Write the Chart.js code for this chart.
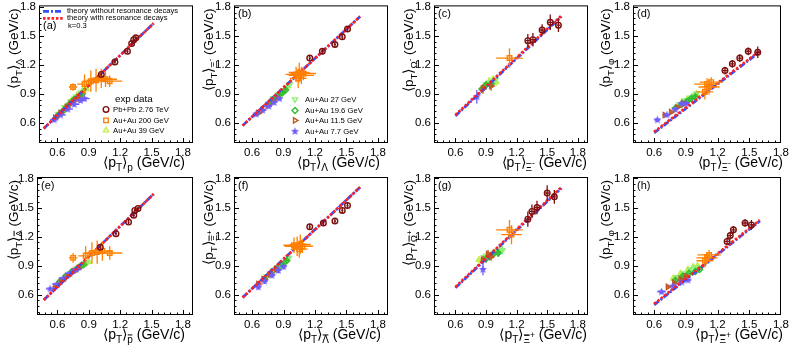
<!DOCTYPE html>
<html>
<head>
<meta charset="utf-8">
<script src="https://cdn.jsdelivr.net/npm/chart.js@4.4.0/dist/chart.umd.min.js"></script>
<style>
  body { margin: 0; background: #fff; }
  #wrap { position: relative; width: 789px; height: 347px; overflow: hidden; background: #fff; }
  #wrap canvas { position: absolute; }
</style>
</head>
<body>
<div id="wrap"></div>
<script>
// ---------------- data ----------------
const X_TICKS = [0.6, 0.9, 1.2, 1.5, 1.8];
const Y_TICKS = [0.6, 0.9, 1.2, 1.5, 1.8];

// theory curves, [x, y]
const aNoRes = [[0.47, 0.54], [1.52, 1.63]];
const aRes   = [[0.47, 0.54], [1.52, 1.63]];
const bNoRes = [[0.51, 0.57], [1.63, 1.70]];
const bRes   = [[0.51, 0.57], [1.63, 1.70]];
const cNoRes = [[0.60, 0.67], [1.64, 1.70]];
const cRes   = [[0.60, 0.68], [1.64, 1.71]];
const dNoRes = [[0.60, 0.495], [1.60, 1.335]];
const dRes   = [[0.60, 0.505], [1.60, 1.345]];
const eNoRes = [[0.47, 0.545], [1.52, 1.64]];
const eRes   = [[0.47, 0.545], [1.52, 1.64]];
const fNoRes = [[0.51, 0.57], [1.63, 1.71]];
const fRes   = [[0.51, 0.57], [1.63, 1.71]];
const gNoRes = [[0.60, 0.67], [1.64, 1.70]];
const gRes   = [[0.60, 0.68], [1.64, 1.71]];
const hNoRes = [[0.60, 0.495], [1.60, 1.36]];
const hRes   = [[0.60, 0.505], [1.60, 1.37]];

// measurements, [x, y, xErr, yErr]
// (a) p vs Lambda
const aPbPb  = [[1.02,1.10,0.01,0.02],[1.15,1.23,0.01,0.02],[1.27,1.34,0.01,0.02],[1.31,1.42,0.01,0.02],[1.33,1.46,0.01,0.02],[1.35,1.48,0.01,0.02]];
const aAu200 = [[0.75,0.97,0.04,0.04],[0.86,1.00,0.07,0.10],[0.92,1.03,0.08,0.11],[0.97,1.04,0.09,0.12],[1.02,1.06,0.10,0.10],[1.06,1.05,0.11,0.08],[1.10,1.03,0.12,0.06]];
const aAu39  = [[0.62,0.70,0.02,0.03],[0.68,0.77,0.02,0.03],[0.74,0.84,0.02,0.03],[0.79,0.89,0.02,0.03],[0.84,0.93,0.02,0.03],[0.88,0.95,0.02,0.03]];
const aAu27  = [[0.61,0.69,0.02,0.03],[0.67,0.76,0.02,0.03],[0.73,0.82,0.02,0.03],[0.78,0.87,0.02,0.03],[0.83,0.91,0.02,0.03],[0.86,0.94,0.02,0.03]];
const aAu19  = [[0.60,0.67,0.02,0.02],[0.66,0.73,0.02,0.02],[0.71,0.79,0.02,0.02],[0.76,0.84,0.02,0.02],[0.81,0.88,0.02,0.02],[0.84,0.90,0.02,0.02]];
const aAu11  = [[0.58,0.65,0.03,0.02],[0.63,0.70,0.03,0.02],[0.69,0.76,0.03,0.02],[0.73,0.80,0.03,0.02],[0.77,0.83,0.03,0.02],[0.80,0.86,0.03,0.02]];
const aAu7   = [[0.57,0.63,0.04,0.02],[0.63,0.68,0.05,0.02],[0.70,0.74,0.05,0.02],[0.76,0.79,0.05,0.02],[0.82,0.83,0.05,0.02],[0.86,0.85,0.05,0.02]];
// (b) Lambda vs Xi-
const bPbPb  = [[1.15,1.27,0.01,0.03],[1.27,1.34,0.01,0.03],[1.39,1.41,0.01,0.03],[1.46,1.49,0.01,0.03],[1.51,1.57,0.01,0.03]];
const bAu200 = [[1.02,1.10,0.10,0.08],[1.05,1.12,0.10,0.10],[1.07,1.09,0.12,0.09],[1.09,1.11,0.12,0.07],[1.04,1.06,0.08,0.10]];
const bAu39  = [[0.78,0.83,0.02,0.03],[0.84,0.88,0.02,0.03],[0.90,0.93,0.02,0.03],[0.94,0.98,0.02,0.03]];
const bAu27  = [[0.80,0.85,0.02,0.03],[0.85,0.89,0.02,0.03],[0.89,0.93,0.02,0.03],[0.93,0.97,0.02,0.03],[0.96,1.00,0.02,0.03]];
const bAu19  = [[0.76,0.80,0.02,0.02],[0.81,0.85,0.02,0.02],[0.85,0.88,0.02,0.02],[0.89,0.91,0.02,0.02],[0.92,0.94,0.02,0.02]];
const bAu11  = [[0.66,0.70,0.02,0.02],[0.70,0.73,0.02,0.02],[0.75,0.78,0.02,0.02],[0.80,0.82,0.02,0.02],[0.84,0.86,0.02,0.02]];
const bAu7   = [[0.64,0.69,0.03,0.02],[0.70,0.73,0.03,0.02],[0.76,0.77,0.03,0.02],[0.81,0.81,0.03,0.02],[0.86,0.85,0.03,0.02]];
// (c) Xi- vs Omega-
const cPbPb  = [[1.31,1.45,0.02,0.07],[1.36,1.46,0.02,0.07],[1.45,1.56,0.02,0.06],[1.53,1.64,0.02,0.08],[1.61,1.61,0.02,0.07]];
const cAu200 = [[1.13,1.27,0.13,0.10]];
const cAu39  = [[0.93,1.03,0.02,0.04],[0.97,1.05,0.02,0.04],[1.00,1.02,0.02,0.04]];
const cAu27  = [[0.90,1.00,0.02,0.04],[0.95,1.02,0.02,0.04],[0.99,1.04,0.02,0.04]];
const cAu19  = [[0.86,0.95,0.02,0.04],[0.90,0.99,0.02,0.04],[0.95,1.00,0.02,0.04]];
const cAu11  = [[0.87,0.95,0.02,0.05],[0.95,0.98,0.02,0.05]];
const cAu7   = [[0.81,0.87,0.02,0.07]];
// (d) Xi- vs phi
const dPbPb  = [[1.27,1.14,0.02,0.04],[1.34,1.21,0.02,0.04],[1.41,1.27,0.02,0.04],[1.49,1.34,0.02,0.04],[1.58,1.33,0.02,0.06]];
const dAu200 = [[1.10,1.00,0.12,0.06],[1.12,0.97,0.10,0.08],[1.08,0.92,0.08,0.08],[1.14,1.02,0.11,0.05]];
const dAu39  = [[0.86,0.81,0.02,0.02],[0.91,0.84,0.02,0.02],[0.96,0.87,0.02,0.02],[1.00,0.90,0.02,0.02]];
const dAu27  = [[0.84,0.79,0.02,0.02],[0.89,0.83,0.02,0.02],[0.94,0.86,0.02,0.02],[0.98,0.88,0.02,0.02],[1.00,0.90,0.02,0.02]];
const dAu19  = [[0.80,0.75,0.02,0.02],[0.86,0.79,0.02,0.02],[0.91,0.82,0.02,0.02],[0.95,0.85,0.02,0.02],[0.99,0.87,0.02,0.02]];
const dAu11  = [[0.70,0.68,0.02,0.02],[0.76,0.71,0.02,0.02],[0.82,0.76,0.02,0.02],[0.88,0.80,0.02,0.02]];
const dAu7   = [[0.63,0.63,0.03,0.02],[0.72,0.68,0.03,0.02],[0.80,0.74,0.03,0.02],[0.86,0.80,0.03,0.02],[0.90,0.80,0.03,0.02]];
// (e) pbar vs Lambdabar
const ePbPb  = [[1.01,1.09,0.01,0.02],[1.16,1.23,0.01,0.02],[1.28,1.35,0.01,0.02],[1.33,1.42,0.01,0.02],[1.34,1.47,0.01,0.02],[1.37,1.49,0.01,0.02]];
const eAu200 = [[0.75,0.98,0.04,0.05],[0.87,1.00,0.07,0.10],[0.93,1.03,0.08,0.11],[0.98,1.04,0.09,0.12],[1.03,1.05,0.10,0.10],[1.10,1.03,0.12,0.07]];
const eAu39  = [[0.66,0.77,0.02,0.03],[0.73,0.83,0.02,0.03],[0.80,0.88,0.02,0.03],[0.86,0.92,0.02,0.03],[0.90,0.94,0.02,0.03]];
const eAu27  = [[0.65,0.76,0.02,0.03],[0.72,0.82,0.02,0.03],[0.78,0.87,0.02,0.03],[0.84,0.91,0.02,0.03],[0.88,0.93,0.02,0.03]];
const eAu19  = [[0.62,0.73,0.02,0.02],[0.68,0.79,0.02,0.02],[0.74,0.84,0.02,0.02],[0.80,0.88,0.02,0.02],[0.85,0.91,0.02,0.02]];
const eAu11  = [[0.58,0.68,0.03,0.02],[0.64,0.74,0.03,0.02],[0.70,0.79,0.03,0.02],[0.76,0.84,0.03,0.02],[0.80,0.87,0.03,0.02]];
const eAu7   = [[0.53,0.66,0.04,0.02],[0.60,0.71,0.05,0.02],[0.66,0.77,0.05,0.02],[0.72,0.82,0.05,0.02],[0.78,0.86,0.05,0.02]];
// (f) Lambdabar vs Xi+
const fPbPb  = [[1.15,1.30,0.01,0.03],[1.28,1.34,0.01,0.03],[1.39,1.36,0.01,0.03],[1.46,1.47,0.01,0.03],[1.51,1.52,0.01,0.03]];
const fAu200 = [[1.00,1.11,0.10,0.08],[1.03,1.10,0.12,0.10],[1.06,1.12,0.10,0.10],[1.05,1.07,0.08,0.09],[1.08,1.10,0.10,0.07]];
const fAu39  = [[0.75,0.80,0.02,0.03],[0.82,0.86,0.02,0.03],[0.88,0.91,0.02,0.03],[0.93,0.96,0.02,0.03]];
const fAu27  = [[0.74,0.79,0.02,0.03],[0.80,0.85,0.02,0.03],[0.86,0.89,0.02,0.03],[0.91,0.93,0.02,0.03],[0.95,0.98,0.02,0.03]];
const fAu19  = [[0.72,0.76,0.02,0.02],[0.78,0.82,0.02,0.02],[0.84,0.87,0.02,0.02],[0.89,0.91,0.02,0.02],[0.93,0.95,0.02,0.02]];
const fAu11  = [[0.66,0.71,0.02,0.02],[0.71,0.76,0.02,0.02],[0.77,0.81,0.02,0.02],[0.83,0.86,0.02,0.02]];
const fAu7   = [[0.66,0.68,0.03,0.03],[0.72,0.74,0.03,0.03],[0.79,0.80,0.03,0.03],[0.85,0.85,0.03,0.03],[0.90,0.89,0.03,0.03]];
// (g) Xi+ vs Omegabar+
const gPbPb  = [[1.31,1.38,0.02,0.08],[1.35,1.46,0.02,0.07],[1.40,1.50,0.02,0.07],[1.50,1.65,0.02,0.08],[1.57,1.61,0.02,0.07]];
const gAu200 = [[1.13,1.27,0.13,0.10],[1.15,1.22,0.10,0.10]];
const gAu39  = [[0.83,0.96,0.02,0.04],[0.91,1.01,0.02,0.04],[0.99,1.04,0.02,0.04],[1.05,1.07,0.02,0.04]];
const gAu27  = [[0.88,0.99,0.02,0.04],[0.95,1.01,0.02,0.04],[1.03,1.05,0.02,0.04],[1.06,1.06,0.02,0.04]];
const gAu19  = [[0.90,0.97,0.02,0.04],[0.97,1.02,0.02,0.04],[1.02,1.03,0.02,0.04]];
const gAu11  = [[0.87,0.96,0.02,0.04],[0.95,0.99,0.02,0.04],[0.92,1.02,0.02,0.04]];
const gAu7   = [[0.87,0.86,0.02,0.06]];
// (h) Xi+ vs phi
const hPbPb  = [[1.29,1.15,0.02,0.04],[1.32,1.21,0.02,0.04],[1.35,1.27,0.02,0.04],[1.46,1.34,0.02,0.04],[1.52,1.32,0.02,0.05]];
const hAu200 = [[1.10,0.98,0.10,0.06],[1.08,0.95,0.08,0.07],[1.12,1.01,0.11,0.05]];
const hAu39  = [[0.78,0.77,0.02,0.02],[0.85,0.82,0.02,0.02],[0.92,0.86,0.02,0.02],[0.97,0.89,0.02,0.02],[1.01,0.90,0.02,0.02]];
const hAu27  = [[0.82,0.78,0.02,0.02],[0.88,0.82,0.02,0.02],[0.94,0.86,0.02,0.02],[0.99,0.88,0.02,0.02]];
const hAu19  = [[0.80,0.75,0.02,0.02],[0.87,0.79,0.02,0.02],[0.93,0.82,0.02,0.02],[0.99,0.84,0.02,0.02],[1.03,0.86,0.02,0.02]];
const hAu11  = [[0.73,0.68,0.02,0.02],[0.79,0.72,0.02,0.02],[0.85,0.76,0.02,0.02],[0.90,0.79,0.02,0.02]];
const hAu7   = [[0.67,0.63,0.04,0.02],[0.78,0.69,0.03,0.02],[0.86,0.73,0.03,0.02],[0.92,0.75,0.03,0.02]];

// ---------------- styles ----------------
const FONT = "'Liberation Sans', Arial, Helvetica, sans-serif";
Chart.defaults.font.family = FONT;

function makeStar(color, r) {
    const c = document.createElement('canvas');
    const s = Math.ceil(r * 2 + 2);
    c.width = s; c.height = s;
    const g = c.getContext('2d');
    g.fillStyle = color;
    g.beginPath();
    for (let i = 0; i < 10; i++) {
        const rad = i % 2 ? r * 0.45 : r;
        const ang = -Math.PI / 2 + i * Math.PI / 5;
        g.lineTo(s / 2 + rad * Math.cos(ang), s / 2 + rad * Math.sin(ang));
    }
    g.closePath();
    g.fill();
    return c;
}

const SERIES = {
    PbPb:  { label: 'Pb+Pb 2.76 TeV', color: '#7d0f0f', shape: 'circle',   rot: 0,   r: 2.8 },
    Au200: { label: 'Au+Au 200 GeV',  color: '#ff8000', shape: 'rect',     rot: 0,   r: 3.2 },
    Au39:  { label: 'Au+Au 39 GeV',   color: '#c2f04a', shape: 'triangle', rot: 0,   r: 3 },
    Au27:  { label: 'Au+Au 27 GeV',   color: '#8ef07a', shape: 'triangle', rot: 180, r: 3 },
    Au19:  { label: 'Au+Au 19.6 GeV', color: '#2fba2f', shape: 'rectRot',  rot: 0,   r: 3 },
    Au11:  { label: 'Au+Au 11.5 GeV', color: '#bd5a20', shape: 'triangle', rot: 90,  r: 3 },
    Au7:   { label: 'Au+Au 7.7 GeV',  color: '#6f5cff', shape: 'star',     rot: 0,   r: 4 }
};
const STAR_IMG = makeStar(SERIES.Au7.color, 4.2);

// axis-title pieces: [text, kind, overline]
function pt(sub, sup, bar) {
    const s = [['\u27E8p', 'n'], ['T', 's'], ['\u27E9', 'n'], [sub, 's', bar]];
    if (sup) s.push([sup, 'ss']);
    s.push([' (GeV/c)', 'n']);
    return s;
}

const PANELS = [
    { tag: '(a)', frame: [39, 4, 193, 143],   xr: [0.425, 1.896], xt: pt('p'),          yt: pt('\u039B'),
      xtOff: -8, ytOff: 21, sets: { noRes: aNoRes, res: aRes, PbPb: aPbPb, Au200: aAu200, Au39: aAu39, Au27: aAu27, Au19: aAu19, Au11: aAu11, Au7: aAu7 } },
    { tag: '(b)', frame: [234, 4, 388, 143],  xr: [0.428, 1.896], xt: pt('\u039B'),     yt: pt('\u039E', '-'),
      xtOff: -8, ytOff: 21, sets: { noRes: bNoRes, res: bRes, PbPb: bPbPb, Au200: bAu200, Au39: bAu39, Au27: bAu27, Au19: bAu19, Au11: bAu11, Au7: bAu7 } },
    { tag: '(c)', frame: [434, 4, 588, 143],  xr: [0.39, 1.9],    xt: pt('\u039E', '-'), yt: pt('\u03A9', '-'),
      xtOff: -1, ytOff: 21, sets: { noRes: cNoRes, res: cRes, PbPb: cPbPb, Au200: cAu200, Au39: cAu39, Au27: cAu27, Au19: cAu19, Au11: cAu11, Au7: cAu7 } },
    { tag: '(d)', frame: [633, 4, 781, 143],  xr: [0.4, 1.8],     xt: pt('\u039E', '-'), yt: pt('\u03C6'),
      xtOff: 2, ytOff: 23, sets: { noRes: dNoRes, res: dRes, PbPb: dPbPb, Au200: dAu200, Au39: dAu39, Au27: dAu27, Au19: dAu19, Au11: dAu11, Au7: dAu7 } },
    { tag: '(e)', frame: [37, 177, 193, 315], xr: [0.405, 1.896], xt: pt('p', null, true), yt: pt('\u039B', null, true),
      xtOff: -8, ytOff: 19, sets: { noRes: eNoRes, res: eRes, PbPb: ePbPb, Au200: eAu200, Au39: eAu39, Au27: eAu27, Au19: eAu19, Au11: eAu11, Au7: eAu7 } },
    { tag: '(f)', frame: [234, 177, 388, 315], xr: [0.428, 1.896], xt: pt('\u039B', null, true), yt: pt('\u039E', '+', true),
      xtOff: -7, ytOff: 21, sets: { noRes: fNoRes, res: fRes, PbPb: fPbPb, Au200: fAu200, Au39: fAu39, Au27: fAu27, Au19: fAu19, Au11: fAu11, Au7: fAu7 } },
    { tag: '(g)', frame: [434, 177, 588, 315], xr: [0.39, 1.9],    xt: pt('\u039E', '+', true), yt: pt('\u03A9', '+', true),
      xtOff: -1, ytOff: 21, sets: { noRes: gNoRes, res: gRes, PbPb: gPbPb, Au200: gAu200, Au39: gAu39, Au27: gAu27, Au19: gAu19, Au11: gAu11, Au7: gAu7 } },
    { tag: '(h)', frame: [633, 177, 781, 315], xr: [0.4, 1.8],     xt: pt('\u039E', '+', true), yt: pt('\u03C6'),
      xtOff: 2, ytOff: 23, sets: { noRes: hNoRes, res: hRes, PbPb: hPbPb, Au200: hAu200, Au39: hAu39, Au27: hAu27, Au19: hAu19, Au11: hAu11, Au7: hAu7 } }
];
const Y_RANGE = [0.39, 1.815];

// ---------------- drawing helpers ----------------
function drawRich(ctx, segs, x, y, size, align) {
    const parts = segs.map(([t, k, bar]) => {
        const fs = k === 'n' ? size : (k === 's' ? size * 0.72 : size * 0.6);
        const dy = k === 'n' ? 0 : (k === 's' ? size * 0.3 : -size * 0.05);
        ctx.font = fs + 'px ' + FONT;
        return { t, fs, dy, bar, w: ctx.measureText(t).width };
    });
    const total = parts.reduce((s, p) => s + p.w, 0);
    let cx = align === 'right' ? x - total : x;
    ctx.textAlign = 'left';
    ctx.textBaseline = 'alphabetic';
    for (const p of parts) {
        ctx.font = p.fs + 'px ' + FONT;
        ctx.fillText(p.t, cx, y + p.dy);
        if (p.bar) {
            const yy = y + p.dy - p.fs * 0.82;
            ctx.lineWidth = 1;
            ctx.beginPath();
            ctx.moveTo(cx + 0.5, yy);
            ctx.lineTo(cx + p.w - 0.5, yy);
            ctx.stroke();
        }
        cx += p.w;
    }
}

function drawMark(ctx, key, x, y) {
    const s = SERIES[key];
    ctx.save();
    ctx.strokeStyle = s.color;
    ctx.fillStyle = 'rgba(255,255,255,0)';
    ctx.lineWidth = 1.4;
    const opts = { pointStyle: s.shape === 'star' ? STAR_IMG : s.shape, radius: s.r, rotation: s.rot, borderWidth: 1.4 };
    Chart.helpers.drawPoint(ctx, opts, x, y);
    ctx.restore();
}

const errorBars = {
    id: 'errorBars',
    beforeDatasetDraw(chart, args) {
        const ds = chart.data.datasets[args.index];
        if (!ds.err) return;
        const { ctx, chartArea: ca } = chart;
        const xs = chart.scales.x, ys = chart.scales.y;
        ctx.save();
        ctx.beginPath();
        ctx.rect(ca.left, ca.top, ca.right - ca.left, ca.bottom - ca.top);
        ctx.clip();
        ctx.strokeStyle = ds.errColor;
        ctx.lineWidth = 1.3;
        ds.data.forEach((p, i) => {
            const [ex, ey] = ds.err[i];
            const px = xs.getPixelForValue(p.x), py = ys.getPixelForValue(p.y);
            ctx.beginPath();
            ctx.moveTo(xs.getPixelForValue(p.x - ex), py);
            ctx.lineTo(xs.getPixelForValue(p.x + ex), py);
            ctx.moveTo(px, ys.getPixelForValue(p.y - ey));
            ctx.lineTo(px, ys.getPixelForValue(p.y + ey));
            ctx.stroke();
        });
        ctx.restore();
    }
};

const rootFrame = {
    id: 'rootFrame',
    afterDraw(chart) {
        const { ctx, chartArea: ca } = chart;
        const P = chart.options.plugins.rootFrame;
        const xs = chart.scales.x, ys = chart.scales.y;
        ctx.save();
        ctx.strokeStyle = '#000';
        ctx.lineWidth = 1;
        ctx.strokeRect(ca.left + 0.5, ca.top + 0.5, ca.right - ca.left - 1, ca.bottom - ca.top - 1);
        // inward ticks on left and bottom
        ctx.beginPath();
        for (let v = 0.3; v <= 2.0001; v += 0.06) {
            const major = X_TICKS.some(t => Math.abs(t - v) < 1e-6);
            const len = major ? 5 : 2.5;
            if (v > xs.min && v < xs.max) {
                const px = Math.round(xs.getPixelForValue(v)) + 0.5;
                ctx.moveTo(px, ca.bottom); ctx.lineTo(px, ca.bottom - len);
            }
            if (v > ys.min && v < ys.max) {
                const py = Math.round(ys.getPixelForValue(v)) + 0.5;
                ctx.moveTo(ca.left, py); ctx.lineTo(ca.left + len, py);
            }
        }
        ctx.stroke();

        ctx.fillStyle = '#000';
        ctx.strokeStyle = '#000';
        // axis titles
        drawRich(ctx, P.xt, ca.right + P.xtOff, ca.bottom + 24, 14, 'right');
        ctx.save();
        ctx.translate(ca.left - P.ytOff, ca.top + 3);
        ctx.rotate(-Math.PI / 2);
        drawRich(ctx, P.yt, 0, 0, 13.5, 'right');
        ctx.restore();

        // panel tag
        ctx.font = '11px ' + FONT;
        ctx.textBaseline = 'middle';
        ctx.textAlign = 'left';
        const tagY = P.tag === '(a)' ? 21 : 9;
        ctx.fillText(P.tag, ca.left + 4, ca.top + tagY);

        if (P.tag === '(a)') {
            ctx.lineWidth = 2.6;
            ctx.strokeStyle = '#3050ff';
            ctx.setLineDash([6, 2, 2, 2]);
            ctx.beginPath(); ctx.moveTo(ca.left + 4, ca.top + 6); ctx.lineTo(ca.left + 24, ca.top + 6); ctx.stroke();
            ctx.strokeStyle = '#ff2020';
            ctx.setLineDash([2.5, 1.8]);
            ctx.beginPath(); ctx.moveTo(ca.left + 4, ca.top + 13); ctx.lineTo(ca.left + 24, ca.top + 13); ctx.stroke();
            ctx.setLineDash([]);
            ctx.font = '7.6px ' + FONT;
            ctx.fillText('theory without resonance decays', ca.left + 28, ca.top + 6);
            ctx.fillText('theory with resonance decays', ca.left + 28, ca.top + 13);
            ctx.fillText('k=0.3', ca.left + 29, ca.top + 21);
            ctx.font = '9.8px ' + FONT;
            ctx.fillText('exp data', ca.left + 76, ca.top + 94);
            ctx.font = '7.7px ' + FONT;
            [['PbPb', 104], ['Au200', 115], ['Au39', 125]].forEach(([k, dy]) => {
                drawMark(ctx, k, ca.left + 67, ca.top + dy);
                ctx.fillStyle = '#000';
                ctx.fillText(SERIES[k].label, ca.left + 74, ca.top + dy);
            });
        }
        if (P.tag === '(b)') {
            ctx.font = '7.7px ' + FONT;
            [['Au27', 94], ['Au19', 105], ['Au11', 115], ['Au7', 126]].forEach(([k, dy]) => {
                drawMark(ctx, k, ca.left + 61, ca.top + dy);
                ctx.fillStyle = '#000';
                ctx.fillText(SERIES[k].label, ca.left + 71, ca.top + dy);
            });
        }
        ctx.restore();
    }
};

// draw order, bottom to top
const DRAW_ORDER = ['Au39', 'Au27', 'Au19', 'Au11', 'Au7', 'noRes', 'res', 'Au200', 'PbPb'];

function buildDatasets(sets) {
    const n = DRAW_ORDER.length;
    return DRAW_ORDER.map((key, i) => {
        const rows = sets[key];
        if (key === 'noRes' || key === 'res') {
            const blue = key === 'noRes';
            return {
                data: rows.map(r => ({ x: r[0], y: r[1] })),
                showLine: true,
                pointRadius: 0,
                borderColor: blue ? '#3050ff' : '#ff2020',
                borderWidth: 2.7,
                borderDash: blue ? [6, 2, 2, 2] : [2.5, 1.8],
                order: n - i
            };
        }
        const s = SERIES[key];
        return {
            label: s.label,
            data: rows.map(r => ({ x: r[0], y: r[1] })),
            err: rows.map(r => [r[2], r[3]]),
            errColor: s.color,
            showLine: false,
            pointStyle: s.shape === 'star' ? STAR_IMG : s.shape,
            pointRotation: s.rot,
            pointRadius: s.r,
            pointBorderWidth: 1.4,
            borderColor: s.color,
            backgroundColor: 'rgba(255,255,255,0)',
            order: n - i
        };
    });
}

const wrap = document.getElementById('wrap');

PANELS.forEach(p => {
    const [fl, ft, fr, fb] = p.frame;
    const L = Math.max(0, fl - 40);
    const T = Math.max(0, ft - 6);
    const W = fr - L + 12;
    const H = fb - T + 30;
    const canvas = document.createElement('canvas');
    canvas.width = W; canvas.height = H;
    canvas.style.left = L + 'px';
    canvas.style.top = T + 'px';
    canvas.style.width = W + 'px';
    canvas.style.height = H + 'px';
    wrap.appendChild(canvas);

    new Chart(canvas.getContext('2d'), {
        type: 'scatter',
        data: { datasets: buildDatasets(p.sets) },
        options: {
            responsive: false,
            animation: false,
            events: [],
            layout: { padding: { left: 0, top: ft - T, right: 12, bottom: 0 } },
            plugins: {
                legend: { display: false },
                tooltip: { enabled: false },
                rootFrame: { tag: p.tag, xt: p.xt, yt: p.yt, xtOff: p.xtOff, ytOff: p.ytOff }
            },
            scales: {
                x: {
                    type: 'linear',
                    min: p.xr[0],
                    max: p.xr[1],
                    afterBuildTicks: s => { s.ticks = X_TICKS.map(v => ({ value: v })); },
                    afterFit: s => { s.height = 30; s.paddingLeft = 0; s.paddingRight = 0; },
                    ticks: { callback: v => Number(v).toFixed(1), color: '#000', font: { size: 11.5 }, padding: 3, maxRotation: 0, autoSkip: false },
                    grid: { display: false, drawTicks: false },
                    border: { display: false }
                },
                y: {
                    type: 'linear',
                    min: Y_RANGE[0],
                    max: Y_RANGE[1],
                    afterBuildTicks: s => { s.ticks = Y_TICKS.map(v => ({ value: v })); },
                    afterFit: s => { s.width = fl - L; s.paddingTop = 0; s.paddingBottom = 0; },
                    ticks: { callback: v => Number(v).toFixed(1), color: '#000', font: { size: 11.5 }, padding: 3, autoSkip: false },
                    grid: { display: false, drawTicks: false },
                    border: { display: false }
                }
            }
        },
        plugins: [errorBars, rootFrame]
    });
});
</script>
</body>
</html>
